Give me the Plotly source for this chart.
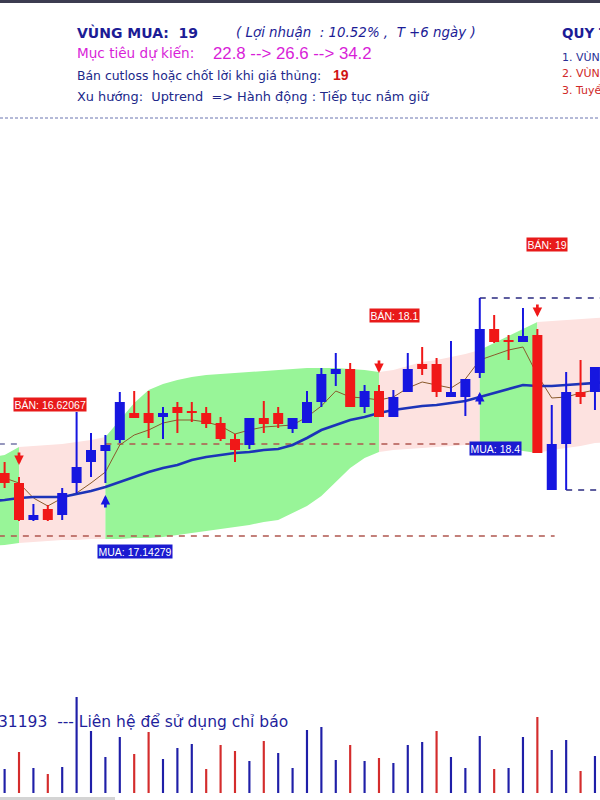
import plotly.graph_objects as go

# ---------------- data ----------------
candle_idx = list(range(42))
open_ = [18.11, 18.01, 17.64, 17.75, 17.69, 18.01, 18.22, 18.33, 18.44, 18.71,
         18.71, 18.67, 18.77, 18.73, 18.71, 18.61, 18.45, 18.39, 18.66, 18.71,
         18.55, 18.61, 18.82, 19.10, 19.15, 18.77, 18.93, 18.67, 18.92, 19.20,
         19.20, 18.87, 18.87, 19.11, 19.55, 19.44, 19.42, 19.49, 17.94, 18.40,
         18.92, 18.92]
high = [18.22, 18.07, 17.80, 17.79, 17.96, 18.72, 18.51, 18.49, 18.92, 18.93,
        18.93, 18.77, 18.82, 18.82, 18.77, 18.67, 18.50, 18.66, 18.83, 18.77,
        18.66, 18.93, 19.16, 19.31, 19.21, 18.99, 18.99, 18.94, 19.31, 19.37,
        19.26, 19.43, 19.05, 19.86, 19.69, 19.49, 19.76, 19.55, 18.79, 19.12,
        19.24, 19.17]
low = [17.96, 17.63, 17.63, 17.63, 17.64, 17.91, 18.07, 18.01, 18.41, 18.66,
       18.46, 18.45, 18.51, 18.62, 18.56, 18.43, 18.22, 18.35, 18.51, 18.56,
       18.51, 18.61, 18.77, 18.98, 18.77, 18.71, 18.67, 18.67, 18.92, 19.09,
       18.87, 18.87, 18.68, 19.06, 19.41, 19.24, 19.42, 18.31, 17.94, 17.94,
       18.80, 18.74]
close = [18.01, 17.64, 17.69, 17.64, 17.91, 18.17, 18.34, 18.39, 18.82, 18.66,
         18.61, 18.71, 18.71, 18.71, 18.60, 18.45, 18.34, 18.66, 18.60, 18.60,
         18.66, 18.82, 19.10, 19.15, 18.77, 18.93, 18.67, 18.87, 19.15, 19.15,
         18.92, 18.92, 19.05, 19.55, 19.42, 19.42, 19.48, 18.31, 18.40, 18.92,
         18.87, 19.17]

volume = [24, 41, 25, 19, 26, 96, 62, 36, 56, 39, 61, 34, 45, 49, 24, 48, 42, 32,
          52, 40, 25, 63, 66, 33, 48, 32, 35, 30, 48, 51, 62, 36, 25, 57, 24, 25,
          56, 76, 43, 53, 22, 37]
volume_up = [1, 0, 1, 0, 1, 1, 1, 1, 1, 0, 0, 1, 1, 1, 0, 0, 0, 1, 0, 1, 1, 1,
             1, 1, 0, 1, 0, 1, 1, 1, 0, 1, 1, 1, 0, 1, 1, 0, 1, 1, 0, 1]

line_x = list(range(-1, 43))
ma_slow = [17.83, 17.84, 17.86, 17.87, 17.87, 17.87, 17.90, 17.93, 17.97, 18.02,
           18.07, 18.12, 18.16, 18.19, 18.24, 18.27, 18.29, 18.31, 18.32, 18.34,
           18.35, 18.39, 18.46, 18.54, 18.59, 18.64, 18.67, 18.71, 18.74, 18.76,
           18.78, 18.79, 18.81, 18.83, 18.87, 18.91, 18.95, 18.99, 18.98, 18.98,
           18.99, 19.00, 19.01, 19.02]
ma_fast = [18.09, 18.06, 18.01, 17.86, 17.78, 17.86, 17.91, 18.01, 18.12, 18.39,
           18.49, 18.54, 18.61, 18.64, 18.64, 18.62, 18.58, 18.50, 18.54, 18.57,
           18.58, 18.59, 18.67, 18.78, 18.93, 18.87, 18.86, 18.84, 18.87, 18.96,
           19.02, 18.99, 18.96, 19.05, 19.24, 19.29, 19.34, 19.37, 19.09, 18.86,
           18.87, 18.91, 18.94, 18.96]
cloud_top = [18.27, 18.29, 18.37, 18.38, 18.39, 18.40, 18.42, 18.44, 18.47, 18.64,
             18.81, 18.94, 19.00, 19.04, 19.07, 19.09, 19.10, 19.11, 19.12, 19.13,
             19.14, 19.15, 19.16, 19.16, 19.16, 19.15, 19.14, 19.12, 19.14, 19.18,
             19.22, 19.24, 19.27, 19.30, 19.34, 19.41, 19.48, 19.55, 19.62, 19.63,
             19.64, 19.65, 19.66, 19.67]
cloud_bot = [17.38, 17.39, 17.41, 17.42, 17.43, 17.44, 17.44, 17.45, 17.45, 17.45,
             17.46, 17.46, 17.47, 17.49, 17.51, 17.53, 17.55, 17.57, 17.59, 17.62,
             17.64, 17.71, 17.78, 17.88, 18.02, 18.16, 18.26, 18.32, 18.34, 18.35,
             18.36, 18.37, 18.38, 18.39, 18.40, 18.38, 18.36, 18.33, 18.31, 18.34,
             18.36, 18.38, 18.41, 18.42]
cloud_seg_start = [-1, 1, 7, 26, 33, 37]
cloud_seg_end = [1, 7, 26, 33, 37, 42]
cloud_seg_up = [1, 0, 1, 0, 1, 0]

signal_idx = [1, 7, 26, 33, 37]
signal_up = [0, 1, 0, 1, 0]
signal_price = [18.19, 17.89, 19.11, 18.92, 19.67]

label_text = ["BÁN: 16.62067", "MUA: 17.14279", "BÁN: 18.1", "BÁN: 19", "MUA: 18.4"]
label_x = [3.15, 9.09, 27.08, 37.7, 34.09]
label_y = [18.80, 17.33, 19.685, 20.40, 18.355]
label_buy = [0, 1, 0, 0, 1]

level_price = [18.40, 18.40, 17.48, 19.86, 17.94]
level_from = [-0.4, 7, -0.4, 33, 39]
level_to = [0.9, 32.3, 38.2, 42, 42]
level_kind = ["grey", "brown", "brown", "navy", "navy"]

# ---------------- styles ----------------
RED = "#f01818"
BLUE = "#1616e0"
UP_FILL = "#98F598"
DOWN_FILL = "#FDE2E0"
LEVEL_COLORS = {"grey": "#7476a8", "brown": "#b0574f", "navy": "#2a2a80"}
NAVY_TXT = "#1c1c96"

fig = go.Figure()

# cloud
for s, e, up in zip(cloud_seg_start, cloud_seg_end, cloud_seg_up):
    i0, i1 = line_x.index(s), line_x.index(e)
    xs = line_x[i0:i1 + 1]
    top = cloud_top[i0:i1 + 1]
    bot = cloud_bot[i0:i1 + 1]
    fig.add_trace(go.Scatter(x=xs + xs[::-1], y=top + bot[::-1], mode="lines",
                             fill="toself", fillcolor=UP_FILL if up else DOWN_FILL,
                             line=dict(width=0), hoverinfo="skip"))

# level lines
for p, a, b, k in zip(level_price, level_from, level_to, level_kind):
    fig.add_trace(go.Scatter(x=[a, b], y=[p, p], mode="lines",
                             line=dict(color=LEVEL_COLORS[k], width=1.3, dash="6px,6px"),
                             hoverinfo="skip"))

# moving averages
fig.add_trace(go.Scatter(x=line_x, y=ma_fast, mode="lines",
                         line=dict(color="#8a5a2c", width=1), hoverinfo="skip"))
fig.add_trace(go.Scatter(x=line_x, y=ma_slow, mode="lines",
                         line=dict(color="#1c34b8", width=2.7), hoverinfo="skip"))

# candles (wicks then bodies)
for want_up, col in ((1, BLUE), (0, RED)):
    wx, wy, bx, by = [], [], [], []
    for i, o, h, l, c in zip(candle_idx, open_, high, low, close):
        if (c >= o) != bool(want_up):
            continue
        wx += [i, i, None]
        wy += [l, h, None]
        bx += [i, i, None]
        by += [o, c, None]
    fig.add_trace(go.Scatter(x=wx, y=wy, mode="lines", line=dict(color=col, width=2),
                             hoverinfo="skip"))
    fig.add_trace(go.Scatter(x=bx, y=by, mode="lines", line=dict(color=col, width=10),
                             hoverinfo="skip"))

# volume
fig.add_trace(go.Bar(x=candle_idx, y=volume, yaxis="y2", width=0.15,
                     marker=dict(color=["#1f1fa8" if u else "#d42c2c" for u in volume_up],
                                 line=dict(width=0)),
                     hoverinfo="skip"))

annotations = []
# signal arrows
for i, up, p in zip(signal_idx, signal_up, signal_price):
    annotations.append(dict(x=i, y=p, xref="x", yref="y", text="", showarrow=True,
                            ax=0, ay=14 if up else -14, arrowhead=2, arrowsize=0.7,
                            arrowwidth=2.7, arrowcolor=BLUE if up else RED, standoff=0))
# price labels
for t, x, y, b in zip(label_text, label_x, label_y, label_buy):
    annotations.append(dict(x=x, y=y, xref="x", yref="y", text=t, showarrow=False,
                            font=dict(family="Liberation Sans", size=10.5, color="white"),
                            bgcolor="#1b1bd0" if b else "#e81a1a", borderpad=0.5))


def txt(px, py, text, size, color, family="DejaVu Sans", anchor="left"):
    annotations.append(dict(x=px / 600, y=1 - py / 800, xref="paper", yref="paper",
                            text=text, showarrow=False, xanchor=anchor, yanchor="middle",
                            font=dict(family=family, size=size, color=color)))


NB = "\u00a0"
txt(75, 32, "<b>VÙNG MUA:" + NB + NB + "19</b>", 14, NAVY_TXT)
txt(234, 32, "<i>(" + NB + "Lợi nhuận" + NB + NB + ":" + NB + "10.52%" + NB + "," + NB + NB
    + "T" + NB + "+6" + NB + "ngày" + NB + ")</i>", 13.4, NAVY_TXT)
txt(75, 53, "Mục tiêu dự kiến:", 13.6, "#d81ed8")
txt(211, 53, "22.8" + NB + "-->" + NB + "26.6" + NB + "-->" + NB + "34.2", 16.8, "#d81ed8",
    family="Liberation Sans")
txt(75, 75, "Bán cutloss hoặc chốt lời khi giá thủng:", 12.4, "#20288a")
txt(331, 75, "<b>19</b>", 14, "#d01414", family="Liberation Sans")
txt(75, 97, "Xu hướng:" + NB + NB + "Uptrend" + NB + NB + "=>" + NB + "Hành động : Tiếp tục nắm giữ",
    12.9, "#20288a")
txt(560, 32, "<b>QUY TẮC</b>", 13.5, NAVY_TXT)
txt(560, 57, "1. VÙNG MUA", 11, "#2a3096")
txt(560, 73, "2. VÙNG BÁN", 11, "#d02828")
txt(560, 90, "3. Tuyển", 11, "#d02828")
txt(290, 722, "31193" + NB + NB + "---" + NB + "Liên hệ để sử dụng chỉ báo", 15.5, "#1f1f9c",
    anchor="right")

shapes = [
    dict(type="rect", xref="paper", yref="paper", x0=0, x1=1, y0=1 - 3 / 800, y1=1,
         fillcolor="#3c3c50", line=dict(width=0)),
    dict(type="line", xref="paper", yref="paper", x0=0, x1=1, y0=1 - 118 / 800,
         y1=1 - 118 / 800, line=dict(color="#6a74b0", width=1, dash="3px,2px")),
    dict(type="rect", xref="paper", yref="paper", x0=0, x1=115 / 600, y0=0, y1=3 / 800,
         fillcolor="#d4d4d4", line=dict(width=0)),
]

fig.update_layout(
    width=600, height=800, margin=dict(l=0, r=0, t=0, b=0),
    paper_bgcolor="white", plot_bgcolor="rgba(0,0,0,0)",
    showlegend=False, barmode="overlay",
    xaxis=dict(range=[-0.32, 41.35], visible=False, fixedrange=True),
    yaxis=dict(range=[14.84, 22.84], domain=[0, 1], visible=False, fixedrange=True),
    yaxis2=dict(range=[-7, 113], domain=[0, 0.15], anchor="x", visible=False,
                fixedrange=True),
    annotations=annotations, shapes=shapes,
)

fig.write_html("out.html", config={"displayModeBar": False},
               post_script="document.body.style.margin='0';document.body.style.overflow='hidden';")
